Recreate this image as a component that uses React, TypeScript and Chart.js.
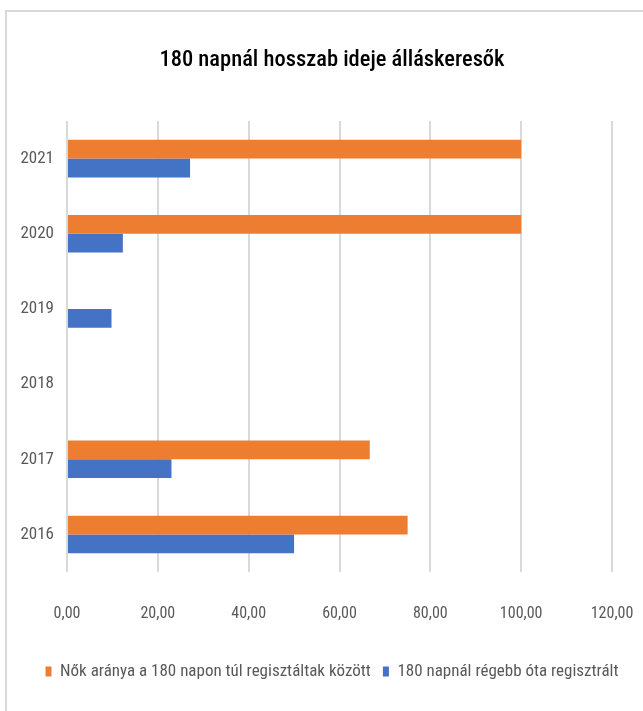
import React, { useEffect, useRef } from "react";
import { Chart, registerables } from "chart.js";

Chart.register(...registerables);

const years = ["2021", "2020", "2019", "2018", "2017", "2016"];
const womenShare = [100, 100, null, null, 66.67, 75];
const over180 = [27.1, 12.3, 9.8, null, 23, 50];
const seriesNames = [
  "Nők aránya a 180 napon túl regisztáltak között",
  "180 napnál régebb óta regisztrált",
];
const titleText = "180 napnál hosszab ideje álláskeresők";
const xTicks = { min: 0, max: 120, step: 20 };

const FONT = "'Roboto Condensed', 'Liberation Sans', sans-serif";

export default function App() {
  const ref = useRef<HTMLCanvasElement | null>(null);
  useEffect(() => {
    if (!ref.current) return;
    const chart = new Chart(ref.current, {
      type: "bar",
      data: {
        labels: years,
        datasets: [
          {
            label: seriesNames[0],
            data: womenShare,
            backgroundColor: "#ED7D31",
            categoryPercentage: 0.5,
            barPercentage: 1,
          },
          {
            label: seriesNames[1],
            data: over180,
            backgroundColor: "#4472C4",
            categoryPercentage: 0.5,
            barPercentage: 1,
          },
        ],
      },
      options: {
        indexAxis: "y",
        animation: false,
        responsive: false,
        maintainAspectRatio: false,
        layout: { padding: { left: 0, right: 0, top: 0, bottom: 21 } },
        scales: {
          x: {
            min: xTicks.min,
            max: xTicks.max,
            ticks: {
              stepSize: xTicks.step,
              color: "#595959",
              font: { family: FONT, size: 16, lineHeight: 3.2 },
              padding: 16,
              maxRotation: 0,
              callback: (v: any) => Number(v).toFixed(2).replace(".", ","),
            },
            grid: { color: "#d9d9d9", lineWidth: 2, drawTicks: false },
            border: { display: false },
            afterFit: (s: any) => {
              s.height = 79;
            },
          },
          y: {
            ticks: {
              color: "#595959",
              font: { family: FONT, size: 17 },
              padding: 5,
            },
            grid: { display: false },
            border: { display: false },
            afterFit: (s: any) => {
              s.width = 60;
            },
          },
          spacer: {
            type: "linear",
            position: "right",
            axis: "y",
            display: true,
            ticks: { display: false },
            grid: { display: false },
            border: { display: false },
            afterFit: (s: any) => {
              s.width = 45;
            },
          },
        },
        plugins: {
          title: {
            display: true,
            text: titleText,
            color: "#000000",
            font: { family: FONT, size: 22.5, weight: "500", lineHeight: 1.2 },
            padding: { top: 35, bottom: 47 },
          },
          legend: {
            position: "bottom",
            labels: {
              color: "#595959",
              font: { family: FONT, size: 17 },
              boxWidth: 6,
              boxHeight: 10,
              padding: 12,
            },
          },
          tooltip: { enabled: false },
        },
      },
    } as any);
    return () => chart.destroy();
  }, []);

  return (
    <div style={{ position: "fixed", inset: 0, overflow: "hidden", background: "#fff" }}>
      <div
        style={{
          position: "absolute",
          left: 5,
          top: 10,
          width: 700,
          height: 720,
          borderTop: "2px solid #d9d9d9",
          borderLeft: "2px solid #d9d9d9",
          background: "#fff",
        }}
      >
        <canvas ref={ref} width={650} height={699} style={{ display: "block" }} />
      </div>
    </div>
  );
}
